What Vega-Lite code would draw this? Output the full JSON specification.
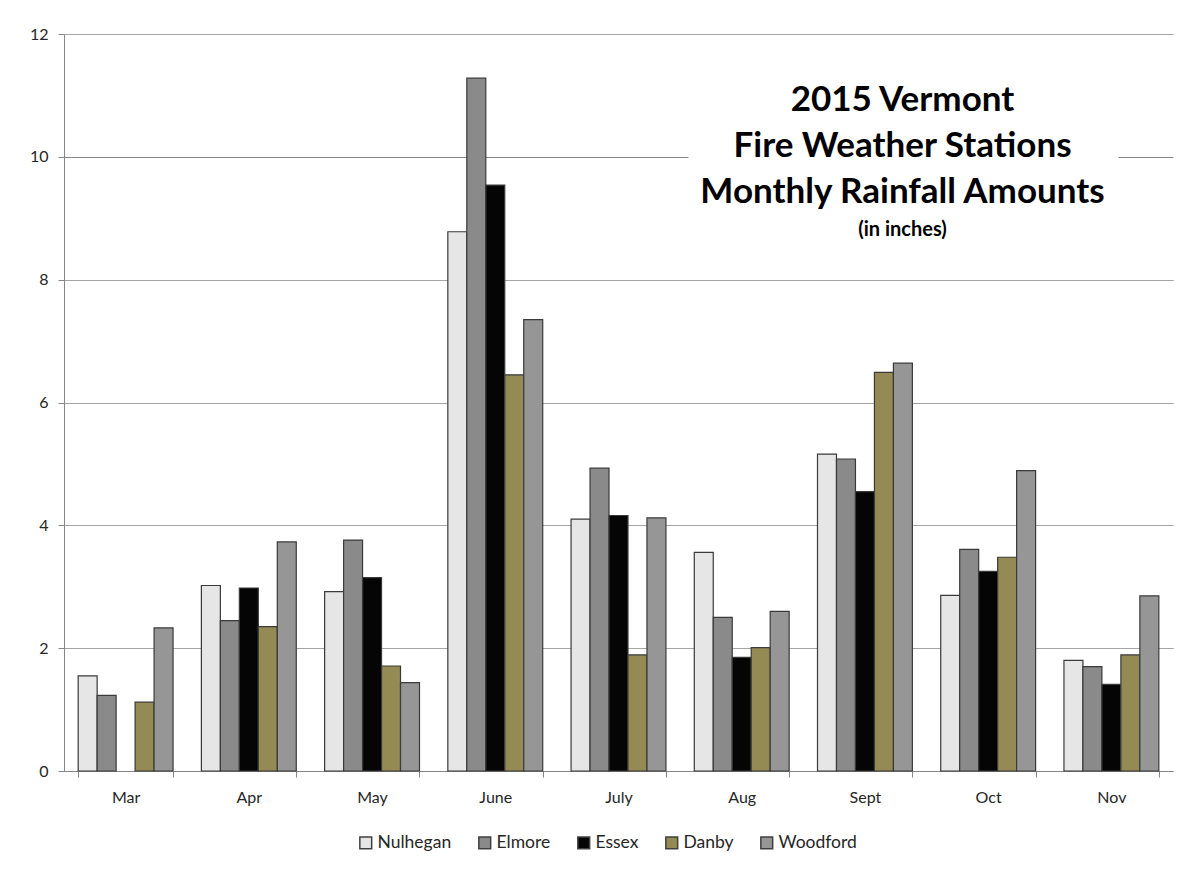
{
  "$schema": "https://vega.github.io/schema/vega-lite/v6.json",
  "width": 1109,
  "height": 737,
  "autosize": {"type": "none"},
  "padding": {"left": 64, "top": 34, "right": 18, "bottom": 101},
  "background": "white",
  "data": {
    "values": [
      {"month": "Mar", "station": "Nulhegan", "rain": 1.55},
      {"month": "Mar", "station": "Elmore", "rain": 1.23},
      {"month": "Mar", "station": "Danby", "rain": 1.12},
      {"month": "Mar", "station": "Woodford", "rain": 2.33},
      {"month": "Apr", "station": "Nulhegan", "rain": 3.02},
      {"month": "Apr", "station": "Elmore", "rain": 2.45},
      {"month": "Apr", "station": "Essex", "rain": 2.98},
      {"month": "Apr", "station": "Danby", "rain": 2.35},
      {"month": "Apr", "station": "Woodford", "rain": 3.73},
      {"month": "May", "station": "Nulhegan", "rain": 2.92},
      {"month": "May", "station": "Elmore", "rain": 3.76},
      {"month": "May", "station": "Essex", "rain": 3.15},
      {"month": "May", "station": "Danby", "rain": 1.71},
      {"month": "May", "station": "Woodford", "rain": 1.44},
      {"month": "June", "station": "Nulhegan", "rain": 8.78},
      {"month": "June", "station": "Elmore", "rain": 11.28},
      {"month": "June", "station": "Essex", "rain": 9.54},
      {"month": "June", "station": "Danby", "rain": 6.45},
      {"month": "June", "station": "Woodford", "rain": 7.35},
      {"month": "July", "station": "Nulhegan", "rain": 4.1},
      {"month": "July", "station": "Elmore", "rain": 4.93},
      {"month": "July", "station": "Essex", "rain": 4.16},
      {"month": "July", "station": "Danby", "rain": 1.89},
      {"month": "July", "station": "Woodford", "rain": 4.12},
      {"month": "Aug", "station": "Nulhegan", "rain": 3.56},
      {"month": "Aug", "station": "Elmore", "rain": 2.5},
      {"month": "Aug", "station": "Essex", "rain": 1.85},
      {"month": "Aug", "station": "Danby", "rain": 2.01},
      {"month": "Aug", "station": "Woodford", "rain": 2.6},
      {"month": "Sept", "station": "Nulhegan", "rain": 5.16},
      {"month": "Sept", "station": "Elmore", "rain": 5.08},
      {"month": "Sept", "station": "Essex", "rain": 4.55},
      {"month": "Sept", "station": "Danby", "rain": 6.49},
      {"month": "Sept", "station": "Woodford", "rain": 6.64},
      {"month": "Oct", "station": "Nulhegan", "rain": 2.86},
      {"month": "Oct", "station": "Elmore", "rain": 3.61},
      {"month": "Oct", "station": "Essex", "rain": 3.25},
      {"month": "Oct", "station": "Danby", "rain": 3.48},
      {"month": "Oct", "station": "Woodford", "rain": 4.89},
      {"month": "Nov", "station": "Nulhegan", "rain": 1.8},
      {"month": "Nov", "station": "Elmore", "rain": 1.7},
      {"month": "Nov", "station": "Essex", "rain": 1.41},
      {"month": "Nov", "station": "Danby", "rain": 1.89},
      {"month": "Nov", "station": "Woodford", "rain": 2.85}
    ]
  },
  "title": {
    "text": ["2015 Vermont", "Fire Weather Stations", "Monthly Rainfall Amounts"],
    "subtitle": "(in inches)",
    "anchor": "middle",
    "frame": "group",
    "dx": 284,
    "dy": 218,
    "font": "Lato",
    "fontSize": 35,
    "fontWeight": "bold",
    "lineHeight": 46,
    "color": "#000000",
    "subtitleFont": "Lato",
    "subtitleFontSize": 20,
    "subtitleFontWeight": "bold",
    "subtitleColor": "#000000",
    "subtitlePadding": 10
  },
  "mark": {"type": "bar", "stroke": "#3a3a3a", "strokeWidth": 1.2},
  "encoding": {
    "x": {
      "field": "month",
      "type": "nominal",
      "sort": ["Mar", "Apr", "May", "June", "July", "Aug", "Sept", "Oct", "Nov"],
      "scale": {"paddingInner": 0.23, "paddingOuter": 0.115},
      "axis": {
        "title": null,
        "labelAngle": 0,
        "labelFont": "Lato",
        "labelFontSize": 16,
        "labelColor": "#262626",
        "labelPadding": 12,
        "tickBand": "extent",
        "tickSize": 6,
        "tickColor": "#868686",
        "domainColor": "#868686",
        "grid": false
      }
    },
    "xOffset": {
      "field": "station",
      "type": "nominal",
      "scale": {"domain": ["Nulhegan", "Elmore", "Essex", "Danby", "Woodford"], "paddingInner": 0, "paddingOuter": 0}
    },
    "y": {
      "field": "rain",
      "type": "quantitative",
      "scale": {"domain": [0, 12]},
      "axis": {
        "title": null,
        "values": [0, 2, 4, 6, 8, 10, 12],
        "labelFont": "Lato",
        "labelFontSize": 16,
        "labelColor": "#262626",
        "labelPadding": 10,
        "tickSize": 6,
        "tickColor": "#868686",
        "domainColor": "#868686",
        "grid": true,
        "gridColor": "#868686",
        "gridWidth": 1,
        "gridDash": {"condition": {"test": "datum.value === 10", "value": [624, 430, 1000]}, "value": [1, 0]}
      }
    },
    "color": {
      "field": "station",
      "type": "nominal",
      "scale": {
        "domain": ["Nulhegan", "Elmore", "Essex", "Danby", "Woodford"],
        "range": ["#e6e6e6", "#8a8a8a", "#050505", "#948a54", "#969696"]
      },
      "legend": {
        "title": null,
        "orient": "none",
        "direction": "horizontal",
        "legendX": 293,
        "legendY": 800,
        "symbolType": "square",
        "symbolSize": 140,
        "symbolStrokeColor": "#404040",
        "symbolStrokeWidth": 1.5,
        "symbolOpacity": 1,
        "labelFont": "Lato",
        "labelFontSize": 17.5,
        "labelColor": "#262626",
        "labelOffset": 3,
        "columnPadding": 23
      }
    }
  },
  "config": {"view": {"stroke": null}}
}
